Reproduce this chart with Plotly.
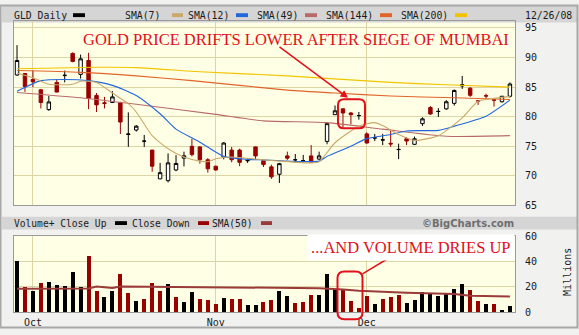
import pandas as pd
import plotly.graph_objects as go

# ---------------- data ----------------
holidays = ["2008-11-27", "2008-12-25"]
dates = [d for d in pd.bdate_range("2008-09-29", "2008-12-26").strftime("%Y-%m-%d") if d not in holidays]

opens = [87.05, 87.3, 86.3, 84.55, 81.2, 85.8, 86.95, 90.7, 87.16, 89.5,
         83.6, 82.35, 82.4, 82.37, 77.0, 77.75, 75.85, 74.36, 69.5, 69.2,
         71.0, 73.0, 75.0, 74.9, 72.73, 71.64, 73.16, 74.36, 74.36, 72.55,
         74.9, 72.56, 71.53, 70.28, 73.38, 72.7, 72.58, 73.38, 72.84, 75.83,
         80.35, 81.33, 80.63, 80.18, 77.1, 76.4, 76.05, 75.5, 74.45, 76.27,
         75.34, 78.83, 81.55, 80.88, 81.33, 82.26, 85.2, 84.82, 82.7, 83.55,
         82.85, 82.53, 83.46]
highs = [92.1, 87.4, 87.8, 84.7, 83.5, 86.35, 87.8, 90.86, 90.5, 90.8,
         84.0, 83.35, 84.33, 82.53, 80.73, 78.6, 76.92, 74.4, 72.2, 73.8,
         73.5, 74.1, 76.27, 75.0, 73.0, 71.7, 75.7, 74.9, 74.6, 73.0,
         74.95, 72.7, 71.9, 72.2, 74.1, 73.7, 73.55, 75.2, 74.1, 78.83,
         81.9, 81.4, 80.8, 80.8, 77.36, 77.1, 77.1, 77.63, 75.45, 76.54,
         76.65, 79.9, 81.8, 81.44, 82.8, 84.6, 86.9, 85.0, 82.8, 83.9,
         83.07, 83.46, 85.8]
lows = [86.9, 84.2, 85.0, 81.4, 81.0, 84.1, 85.8, 89.2, 86.45, 81.28,
        80.8, 81.4, 82.37, 77.08, 74.9, 77.5, 74.9, 70.7, 69.46, 68.9,
        70.8, 71.6, 73.3, 72.07, 70.55, 70.9, 72.8, 72.3, 71.64, 72.2,
        72.7, 71.5, 69.5, 68.8, 72.7, 72.2, 72.2, 72.25, 72.7, 75.34,
        80.35, 78.2, 78.7, 79.5, 75.45, 75.9, 75.2, 74.9, 72.83, 75.2,
        75.2, 78.45, 80.35, 79.97, 81.17, 81.88, 84.7, 83.35, 82.0, 83.07,
        81.71, 82.4, 83.24]
closes = [89.5, 85.1, 85.9, 82.4, 82.5, 84.17, 87.0, 89.34, 89.78, 83.08,
          82.0, 82.26, 83.35, 79.1, 77.08, 78.4, 75.88, 71.64, 70.55, 72.2,
          72.1, 73.4, 73.6, 72.73, 71.2, 71.0, 75.56, 72.73, 72.29, 72.6,
          73.38, 71.91, 69.84, 72.07, 73.0, 72.73, 72.6, 72.3, 73.38, 78.83,
          81.0, 80.63, 80.35, 80.2, 75.56, 76.43, 76.1, 75.4, 74.47, 75.89,
          76.27, 79.64, 80.46, 80.9, 82.53, 84.44, 85.4, 83.62, 82.64, 83.5,
          82.8, 83.46, 85.53]
volume = [40.8, 20.5, 17.4, 23.0, 23.8, 21.5, 20.8, 31.8, 20.0, 44.9,
          16.9, 12.3, 17.2, 30.8, 15.4, 9.2, 10.8, 23.0, 17.2, 22.3,
          12.3, 8.5, 16.2, 10.8, 10.0, 6.9, 11.5, 10.8, 10.8, 6.2,
          6.2, 8.3, 10.0, 16.9, 13.1, 7.7, 8.5, 13.7, 13.7, 30.9,
          18.6, 17.7, 9.3, 3.9, 13.1, 7.0, 10.9, 12.4, 13.7, 7.8,
          9.9, 16.2, 14.5, 13.3, 15.3, 18.6, 22.2, 17.6, 9.2, 6.8,
          6.8, 2.3, 5.4]

# moving averages (trading-day index, value)
sma7_day = [0, 2, 4, 7, 8, 10, 12, 14, 15, 17, 19, 21, 23, 24, 25, 27, 31, 33, 37, 38,
            40, 43, 45, 46, 48, 50, 53, 56, 58, 60, 62]
sma7_val = [87.4, 86.6, 85.5, 85.5, 86.0, 85.8, 84.0, 82.2, 80.8, 76.8, 74.6, 73.2, 72.5, 72.4,
            72.9, 73.2, 72.7, 72.5, 72.2, 72.4, 75.6, 78.4, 79.0, 78.5, 77.0, 76.0, 76.8, 79.8,
            82.6, 83.1, 83.4]
sma12_day = [0, 3, 6, 9, 12, 15, 18, 20, 23, 26, 29, 31, 34, 38, 39, 42, 44, 47, 49, 53, 55, 59, 62]
sma12_val = [84.3, 86.1, 86.3, 86.1, 85.3, 83.6, 80.5, 77.9, 75.7, 73.3, 72.8, 72.7, 72.5, 72.5,
             73.3, 75.0, 76.3, 77.0, 77.6, 77.7, 78.4, 80.1, 82.8]
sma49_day = [0, 8, 15, 25, 31, 39, 46, 54, 62]
sma49_val = [84.1, 83.2, 82.1, 80.4, 79.3, 79.0, 77.9, 76.7, 76.8]
sma144_day = [0, 8, 15, 22, 34, 40, 47, 55, 62]
sma144_val = [87.8, 87.5, 86.9, 86.1, 84.5, 84.0, 83.5, 83.2, 82.9]
sma200_day = [0, 10, 15, 23, 34, 47, 54, 62]
sma200_val = [88.1, 88.35, 88.3, 87.6, 86.9, 85.8, 85.4, 85.0]
vsma_day = [0, 9, 10, 11, 12, 13, 20, 30, 38, 41, 43, 49, 55, 57, 62]
vsma_val = [18.5, 18.7, 20.3, 19.5, 19.2, 20.3, 20.0, 19.8, 19.0, 18.0, 17.0, 15.3, 14.3, 13.0, 12.4]

price_ticks = [65, 70, 75, 80, 85, 90, 95]
vol_ticks = [0, 20, 40, 60]

# ---------------- derived ----------------
W, H = 579, 335
idx = list(range(len(dates)))
month_idx, month_lbl = [], []
for i, d in enumerate(dates):
    m = d[:7]
    if i == 0 or m != dates[i - 1][:7]:
        if d[8:] <= "05":
            month_idx.append(i)
            month_lbl.append(pd.Timestamp(d).strftime("%b"))
up = [True] + [closes[i] >= closes[i - 1] for i in range(1, len(closes))]
RED = "#990000"
vol_colors = ["#000000" if u else RED for u in up]


def px(x, y):
    return x / W, 1 - y / H


def rrect(x0, y0, x1, y1, r):
    def P(x, y):
        a, b = px(x, y)
        return f"{a:.5f},{b:.5f}"
    return (f"M {P(x0 + r, y0)} L {P(x1 - r, y0)} Q {P(x1, y0)} {P(x1, y0 + r)} "
            f"L {P(x1, y1 - r)} Q {P(x1, y1)} {P(x1 - r, y1)} L {P(x0 + r, y1)} "
            f"Q {P(x0, y1)} {P(x0, y1 - r)} L {P(x0, y0 + r)} Q {P(x0, y0)} {P(x0 + r, y0)} Z")


MONO = "DejaVu Sans Mono"
TXT = "#1a1a1a"
GRID = "#DAD6A8"
PLOTBG = "#FFFFE6"
ANN_RED = "#E2101A"

fig = go.Figure()
fig.add_trace(go.Candlestick(
    x=idx, open=opens, high=highs, low=lows, close=closes,
    increasing=dict(line=dict(color="#000000", width=1), fillcolor="#FFFFFF"),
    decreasing=dict(line=dict(color=RED, width=1), fillcolor=RED),
    whiskerwidth=0, showlegend=False, xaxis="x", yaxis="y"))

for dd, vv, col in [(sma200_day, sma200_val, "#F2C400"), (sma144_day, sma144_val, "#E2642A"),
                    (sma49_day, sma49_val, "#B86A6A"), (sma12_day, sma12_val, "#2266DD"),
                    (sma7_day, sma7_val, "#C9A86A")]:
    fig.add_trace(go.Scatter(x=dd, y=vv, mode="lines", line=dict(color=col, width=1.1, shape="spline", smoothing=0.6),
                             showlegend=False, hoverinfo="skip", xaxis="x", yaxis="y"))

fig.add_trace(go.Bar(x=idx, y=volume, marker=dict(color=vol_colors, line=dict(width=0)), width=0.5,
                     showlegend=False, xaxis="x2", yaxis="y2"))
fig.add_trace(go.Scatter(x=vsma_day, y=vsma_val, mode="lines", line=dict(color="#9A3A3A", width=2),
                         showlegend=False, hoverinfo="skip", xaxis="x2", yaxis="y2"))

xdom = [14 / W, 515 / W]
xr = [-0.38, 62.64]
axis_common = dict(showline=True, linecolor="#9A9A9A", mirror=True, zeroline=False,
                   gridcolor=GRID, gridwidth=1, fixedrange=True)
fig.update_layout(
    width=W, height=H, margin=dict(l=0, r=0, t=0, b=0),
    paper_bgcolor="#F1F1EF", plot_bgcolor=PLOTBG,
    xaxis=dict(domain=xdom, range=xr, anchor="y", tickvals=month_idx, showticklabels=False,
               rangeslider=dict(visible=False), ticks="", **axis_common),
    yaxis=dict(domain=[1 - 207.3 / H, 1 - 17 / H], range=[65, 96.1], side="right", anchor="x",
               tickvals=price_ticks, ticks="", ticklabelstandoff=7,
               tickfont=dict(family=MONO, size=10, color=TXT), **axis_common),
    xaxis2=dict(domain=xdom, range=xr, anchor="y2", tickvals=month_idx, ticktext=month_lbl, ticks="",
                tickfont=dict(family=MONO, size=10, color=TXT), ticklabelstandoff=1, **axis_common),
    yaxis2=dict(domain=[1 - 317.5 / H, 1 - 238.5 / H], range=[0, 60.7], side="right", anchor="x2",
                tickvals=vol_ticks, ticks="", ticklabelstandoff=7,
                tickfont=dict(family=MONO, size=10, color=TXT), **axis_common),
    bargap=0, boxgap=0.38,
)

shapes = []
def band(y0, y1):
    a0, b0 = px(2, y0)
    a1, b1 = px(577, y1)
    shapes.append(dict(type="rect", xref="paper", yref="paper", x0=a0, x1=a1, y0=b1, y1=b0,
                       fillcolor="#D5D5D5", line=dict(width=0), layer="below"))
band(1, 18)
band(219, 232)

def swatch(x0, x1, yc, color):
    a0, b0 = px(x0, yc - 2)
    a1, b1 = px(x1, yc + 2)
    shapes.append(dict(type="rect", xref="paper", yref="paper", x0=a0, x1=a1, y0=b1, y1=b0,
                       fillcolor=color, line=dict(width=0)))

annotations = []
def label(text, x, y, anchor="left", size=10, family=MONO, color=TXT, pad=0, **kw):
    a, b = px(x, y)
    annotations.append(dict(text=text, x=a, y=b, xref="paper", yref="paper", xanchor=anchor, yanchor="middle",
                            showarrow=False, borderpad=pad, font=dict(family=family, size=size, color=color), **kw))

legend_top = [("GLD Daily", 13, 73, 85, "#000000"), ("SMA(7)", 124, 172, 183, "#C9A86A"),
              ("SMA(12)", 187, 236, 248, "#2266DD"), ("SMA(49)", 256, 305, 317, "#B86A6A"),
              ("SMA(144)", 325, 380, 392, "#E2642A"), ("SMA(200)", 400, 455, 467, "#F2C400")]
for text, tx, s0, s1, col in legend_top:
    label(text, tx, 10.5, size=9.8)
    swatch(s0, s1, 10.5, col)
label("12/26/08", 573, 10.5, anchor="right", size=9.8)

legend_vol = [("Volume+ Close Up", 13, 115, 127, "#000000"), ("Close Down", 131, 198, 209, RED),
              ("SMA(50)", 211, 261, 272, "#9A3A3A")]
for text, tx, s0, s1, col in legend_vol:
    label(text, tx, 225.5, size=9.6)
    swatch(s0, s1, 225.5, col)
label("<b>©BigCharts.com</b>", 515, 225.5, anchor="right", family="DejaVu Sans", color="#6E6E6E")
label("Millions", 568, 276, anchor="center", textangle=-90)

# commentary
label("GOLD PRICE DRIFTS LOWER AFTER SIEGE OF MUMBAI", 295.5, 36, anchor="center",
      family="Liberation Serif", size=16.5, color=ANN_RED)
label("...AND VOLUME DRIES UP", 411, 250.5, anchor="center",
      family="Liberation Serif", size=16.5, color=ANN_RED, bgcolor="#FFFFFF", pad=3)
a, b = px(348, 96)
annotations.append(dict(text="", x=a, y=b, xref="paper", yref="paper", showarrow=True, ax=-70, ay=-52,
                        arrowhead=2, arrowsize=1, arrowwidth=1.5, arrowcolor=ANN_RED))

shapes.append(dict(type="path", xref="paper", yref="paper", path=rrect(338, 97.5, 365, 127.5, 6),
                   line=dict(color=ANN_RED, width=2)))
shapes.append(dict(type="path", xref="paper", yref="paper", path=rrect(337.5, 275.5, 362.5, 325, 7),
                   line=dict(color=ANN_RED, width=2)))
a0, b0 = px(362.5, 278)
a1, b1 = px(393, 259)
shapes.append(dict(type="line", xref="paper", yref="paper", x0=a0, y0=b0, x1=a1, y1=b1,
                   line=dict(color=ANN_RED, width=1.5)))
# outer frame
shapes.append(dict(type="rect", xref="paper", yref="paper", x0=0.5 / W, x1=1 - 1.5 / W, y0=1.5 / H, y1=1 - 0.5 / H,
                   line=dict(color="#A8A8A8", width=2)))

fig.update_layout(shapes=shapes, annotations=annotations)
fig.write_html("out.html")
